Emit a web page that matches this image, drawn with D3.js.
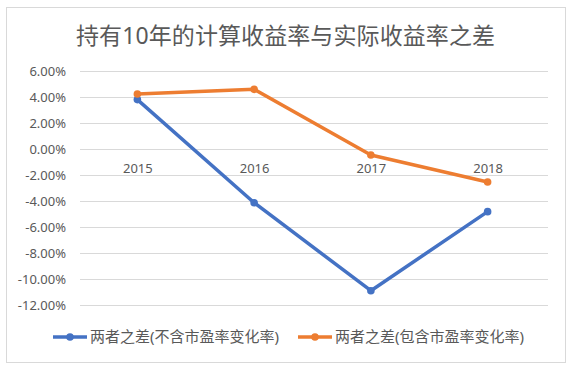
<!DOCTYPE html>
<html>
<head>
<meta charset="utf-8">
<script src="https://cdn.jsdelivr.net/npm/d3@7"></script>
<style>
  body { margin: 0; background: #fff; }
  svg text { font-family: "Noto Sans", "Noto Sans CJK SC", sans-serif; fill: #595959; }
</style>
</head>
<body>
<svg id="chart"></svg>
<script>
// data
const years = ["2015", "2016", "2017", "2018"];
const diffNoPE = [3.8, -4.13, -10.9, -4.82];
const diffWithPE = [4.23, 4.59, -0.46, -2.54];
const yTicks = [6, 4, 2, 0, -2, -4, -6, -8, -10, -12];
const seriesNames = ["两者之差(不含市盈率变化率)", "两者之差(包含市盈率变化率)"];
const colors = ["#4472C4", "#ED7D31"];

const width = 574;
const height = 378;

const svg = d3.select("#chart")
    .attr("width", width)
    .attr("height", height);

// chart frame
svg.append("rect")
    .attr("x", 6.5).attr("y", 7.5)
    .attr("width", 559).attr("height", 355)
    .attr("fill", "#fff")
    .attr("stroke", "#D9D9D9");

svg.append("text")
    .attr("x", 285.5)
    .attr("y", 44)
    .attr("text-anchor", "middle")
    .attr("font-size", 23)
    .attr("textLength", 419)
    .attr("lengthAdjust", "spacing")
    .text("持有10年的计算收益率与实际收益率之差");

const x = d3.scalePoint()
    .domain(years)
    .range([79, 546])
    .padding(0.5);

const y = d3.scaleLinear()
    .domain([-12, 6])
    .range([305, 71]);

// gridlines + tick labels
const yAxis = svg.append("g")
    .attr("transform", "translate(80,0)")
    .call(d3.axisLeft(y)
        .tickValues(yTicks)
        .tickSize(-468)
        .tickPadding(14)
        .tickFormat(d => d.toFixed(2) + "%"));
yAxis.select(".domain").remove();
yAxis.selectAll("line").attr("stroke", "#D9D9D9");
yAxis.selectAll("text").attr("font-size", 13).attr("fill", "#595959");

// category axis at zero
const xAxis = svg.append("g")
    .attr("transform", `translate(0,${y(0)})`)
    .call(d3.axisBottom(x).tickSize(0).tickPadding(15));
xAxis.select(".domain").remove();
xAxis.selectAll("text").attr("font-size", 13).attr("fill", "#595959");

const series = [diffNoPE, diffWithPE];
const line = d3.line()
    .x((d, i) => x(years[i]))
    .y(d => y(d));

series.forEach((vals, s) => {
    svg.append("path")
        .datum(vals)
        .attr("fill", "none")
        .attr("stroke", colors[s])
        .attr("stroke-width", 3.5)
        .attr("stroke-linejoin", "round")
        .attr("d", line);
    svg.selectAll(".pt" + s)
        .data(vals)
        .enter()
        .append("circle")
        .attr("cx", (d, i) => x(years[i]))
        .attr("cy", d => y(d))
        .attr("r", 3.8)
        .attr("fill", colors[s]);
});

// legend
const legendX = [53, 298];
seriesNames.forEach((name, s) => {
    const g = svg.append("g").attr("transform", `translate(${legendX[s]},337)`);
    g.append("line")
        .attr("x1", 0).attr("x2", 34)
        .attr("stroke", colors[s])
        .attr("stroke-width", 3.5);
    g.append("circle")
        .attr("cx", 17).attr("r", 3.8)
        .attr("fill", colors[s]);
    g.append("text")
        .attr("x", 37)
        .attr("dy", "0.35em")
        .attr("font-size", 15)
        .text(name);
});
</script>
</body>
</html>
